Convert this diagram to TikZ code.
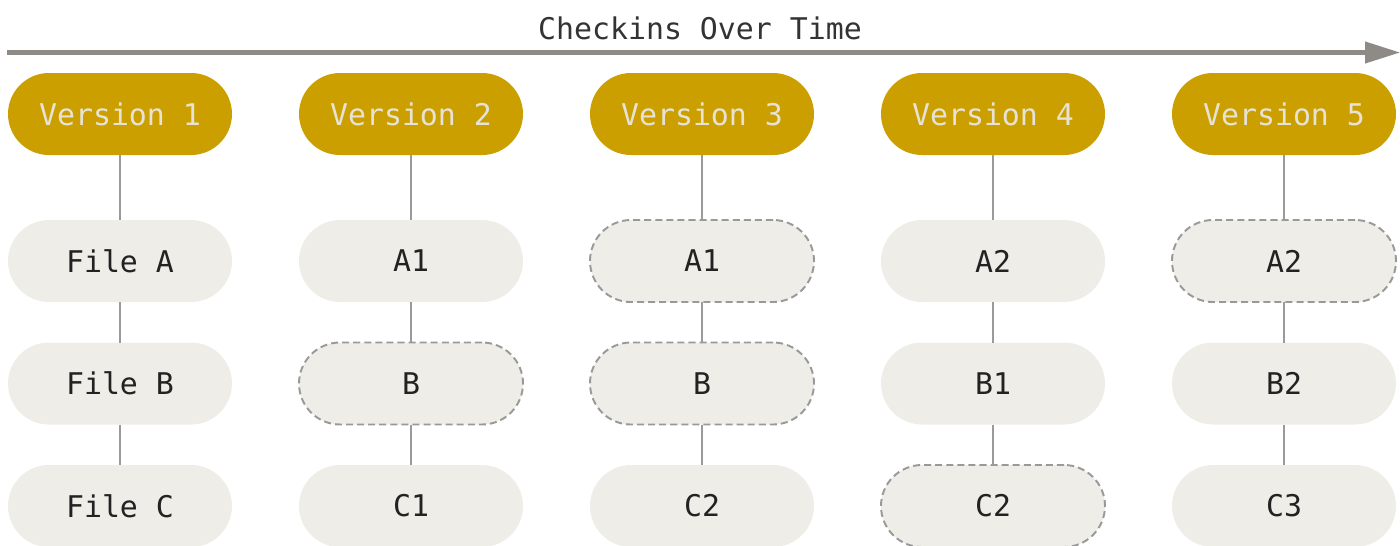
\documentclass[tikz,border=0pt]{standalone}
\usepackage{fontspec}
\setmonofont{DejaVu Sans Mono}
\usetikzlibrary{positioning, arrows.meta}
\definecolor{verfill}{HTML}{CC9F00}
\definecolor{vertext}{HTML}{E6E2D6}
\definecolor{filefill}{HTML}{EEEDE7}
\definecolor{filetext}{HTML}{222222}
\definecolor{linegray}{HTML}{9A9A9A}
\definecolor{dashgray}{HTML}{999999}
\definecolor{arrowgray}{HTML}{8E8A85}

\begin{document}
\begin{tikzpicture}[node distance=0.81cm and 1.34cm,
    box/.style={rectangle, rounded corners=0.82cm, minimum width=4.48cm, minimum height=1.64cm, inner sep=0pt, outer sep=0pt, font=\ttfamily\fontsize{17}{20}\selectfont},
    version/.style={box, fill=verfill, text=vertext},
    file/.style={box, fill=filefill, text=filetext},
    unchanged/.style={file, draw=dashgray, dash pattern=on 4pt off 2.3pt, line width=1.1pt},
    link/.style={draw=linegray, line width=1.1pt}]
    \useasboundingbox (0,0) rectangle (28,-10.9);
    % time axis
    \node[font=\ttfamily\fontsize{17}{20}\selectfont, text=black!80] (title) at (14,-0.56) {Checkins Over Time};
    \coordinate (tstart) at (0.14,-1.05);
    \coordinate (tend) at (28,-1.05);
    \draw[arrowgray, line width=2.3pt, -{Triangle[length=0.7cm,width=0.42cm]}] (tstart) -- (tend);
    % versions
    \node[version] (ver1) at (2.4,-2.28) {Version 1};
    \node[version, right=of ver1] (ver2) {Version 2};
    \node[version, right=of ver2] (ver3) {Version 3};
    \node[version, right=of ver3] (ver4) {Version 4};
    \node[version, right=of ver4] (ver5) {Version 5};
    % files
    \node[file, below=1.3cm of ver1] (fa1) {File A};
    \node[file, below=of fa1] (fb1) {File B};
    \node[file, below=of fb1] (fc1) {File C};
    \node[file, below=1.3cm of ver2] (fa2) {A1};
    \node[unchanged, below=of fa2] (fb2) {B};
    \node[file, below=of fb2] (fc2) {C1};
    \node[unchanged, below=1.3cm of ver3] (fa3) {A1};
    \node[unchanged, below=of fa3] (fb3) {B};
    \node[file, below=of fb3] (fc3) {C2};
    \node[file, below=1.3cm of ver4] (fa4) {A2};
    \node[file, below=of fa4] (fb4) {B1};
    \node[unchanged, below=of fb4] (fc4) {C2};
    \node[unchanged, below=1.3cm of ver5] (fa5) {A2};
    \node[file, below=of fa5] (fb5) {B2};
    \node[file, below=of fb5] (fc5) {C3};
    % links
    \draw[link] (ver1) -- (fa1) (fa1) -- (fb1) (fb1) -- (fc1);
    \draw[link] (ver2) -- (fa2) (fa2) -- (fb2) (fb2) -- (fc2);
    \draw[link] (ver3) -- (fa3) (fa3) -- (fb3) (fb3) -- (fc3);
    \draw[link] (ver4) -- (fa4) (fa4) -- (fb4) (fb4) -- (fc4);
    \draw[link] (ver5) -- (fa5) (fa5) -- (fb5) (fb5) -- (fc5);
\end{tikzpicture}
\end{document}
